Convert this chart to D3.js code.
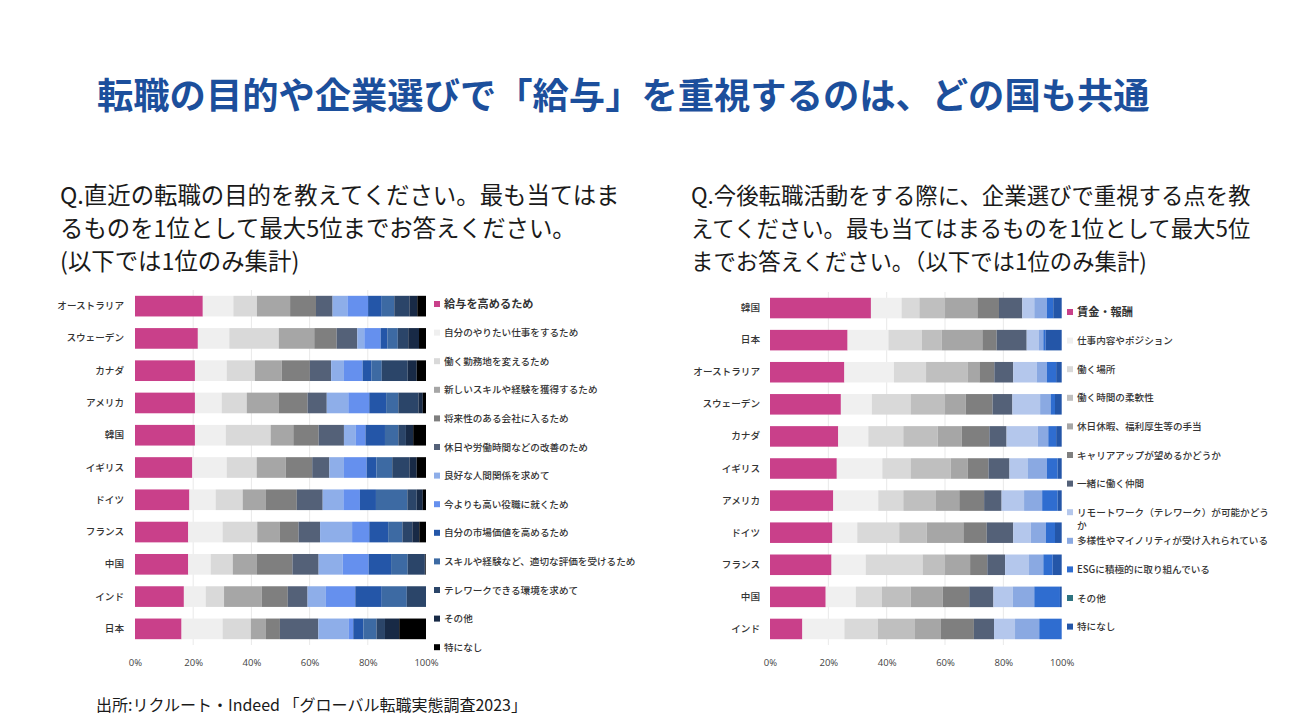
<!DOCTYPE html>
<html><head><meta charset="utf-8">
<script src="https://cdn.jsdelivr.net/npm/d3@7"></script>
<style>
html,body{margin:0;padding:0;background:#fff;}
svg{display:block;font-family:"Noto Sans CJK JP","Noto Sans",sans-serif;}
</style></head>
<body><svg id="c" width="1295" height="723"></svg>
<script>
// ---------- data ----------
const titleText = "転職の目的や企業選びで「給与」を重視するのは、どの国も共通";
const leftQuestion = ["Q.直近の転職の目的を教えてください。最も当てはま","るものを1位として最大5位までお答えください。","(以下では1位のみ集計)"];
const rightQuestion = ["Q.今後転職活動をする際に、企業選びで重視する点を教","えてください。最も当てはまるものを1位として最大5位","までお答えください。（以下では1位のみ集計)"];
const sourceText = "出所:リクルート・Indeed 「グローバル転職実態調査2023」";

const leftCountries = ["オーストラリア","スウェーデン","カナダ","アメリカ","韓国","イギリス","ドイツ","フランス","中国","インド","日本"];
const leftCategories = ["給与を高めるため","自分のやりたい仕事をするため","働く勤務地を変えるため","新しいスキルや経験を獲得するため","将来性のある会社に入るため","休日や労働時間などの改善のため","良好な人間関係を求めて","今よりも高い役職に就くため","自分の市場価値を高めるため","スキルや経験など、適切な評価を受けるため","テレワークできる環境を求めて","その他","特になし"];
const leftValues = [
  [23.3,10.5, 8.1,11.4, 8.9, 5.7, 5.1, 7.1, 4.7, 4.3, 5.2, 2.7, 3.0],
  [21.6,10.8,17.0,12.2, 7.7, 7.1, 2.4, 5.6, 2.3, 3.6, 3.6, 3.7, 2.4],
  [20.6,10.9, 9.7, 9.2, 9.7, 7.3, 4.4, 6.4, 3.1, 3.5, 8.9, 3.1, 3.2],
  [20.6, 9.2, 8.6,10.9,10.0, 6.6, 7.4, 7.2, 5.8, 4.2, 6.9, 1.5, 1.1],
  [20.6,10.6,15.4, 7.8, 8.7, 8.7, 4.1, 3.3, 6.7, 4.6, 2.6, 2.5, 4.4],
  [19.7,11.8,10.3,10.0, 9.1, 5.9, 5.0, 7.8, 3.4, 5.4, 5.9, 2.5, 3.2],
  [18.7, 9.0, 9.3, 8.0,10.6, 8.9, 7.1, 5.7, 5.5,10.8, 3.2, 2.1, 1.1],
  [18.3,11.8,11.9, 7.8, 6.4, 7.4,11.0, 5.9, 6.5, 4.9, 3.4, 2.4, 2.3],
  [18.3, 7.7, 7.6, 8.3,12.2, 9.0, 8.3, 8.9, 7.7, 5.7, 5.9, 0.2, 0.2],
  [16.8, 7.5, 6.3,12.9, 9.0, 6.8, 6.3,10.1, 9.1, 8.6, 6.6, 0.0, 0.0],
  [16.0,14.1, 9.7, 5.2, 4.8,13.2,10.5, 1.5, 3.5, 4.5, 2.9, 4.9, 9.2]
];

const rightCountries = ["韓国","日本","オーストラリア","スウェーデン","カナダ","イギリス","アメリカ","ドイツ","フランス","中国","インド"];
const rightCategories = ["賃金・報酬","仕事内容やポジション","働く場所","働く時間の柔軟性","休日休暇、福利厚生等の手当","キャリアアップが望めるかどうか","一緒に働く仲間","リモートワーク（テレワーク）が可能かどうか","多様性やマイノリティが受け入れられている","ESGに積極的に取り組んでいる","その他","特になし"];
const rightValues = [
  [34.6,10.5, 6.1, 8.8,11.1, 7.4, 8.0, 4.1, 4.3, 2.2, 0.0, 2.9],
  [26.6,14.0,11.4, 6.9,13.9, 4.9,10.3, 4.2, 1.5, 0.8, 0.0, 5.5],
  [25.5,17.0,11.0,14.2, 4.1, 5.1, 6.5, 8.0, 3.5, 3.2, 0.0, 1.9],
  [24.3,10.6,13.3,11.8, 7.1, 9.2, 6.8, 9.5, 3.6, 1.5, 0.0, 2.3],
  [23.4,10.3,12.0,11.8, 8.2, 9.5, 5.9,10.7, 3.6, 2.7, 0.0, 1.9],
  [22.9,15.6, 9.7,13.7, 5.9, 7.1, 7.2, 6.2, 6.6, 3.7, 0.0, 1.4],
  [21.7,15.4, 8.6,11.2, 8.0, 8.5, 6.0, 7.7, 6.2, 5.3, 0.0, 1.4],
  [21.4, 8.5,14.4, 9.4,12.6, 8.0, 9.1, 6.0, 5.2, 3.1, 0.0, 2.3],
  [21.1,11.7,19.5, 7.7, 8.6, 5.9, 6.1, 8.2, 4.9, 3.2, 0.0, 3.1],
  [19.1,10.3, 8.9, 9.9,11.0, 9.1, 8.3, 6.6, 7.4, 8.8, 0.0, 0.6],
  [11.1,14.4,11.4,12.8, 8.9,11.3, 6.9, 7.2, 8.3, 7.7, 0.0, 0.0]
];

const axisTicks = [0, 20, 40, 60, 80, 100];

// ---------- styles ----------
const leftColors = ["#c9408a","#efefef","#d9d9d9","#a6a6a6","#7f7f7f","#546178","#8eaee9","#6590ee","#2456a8","#3d6aa3","#2b4569","#182a46","#000000"];
const rightColors = ["#c9408a","#f0f0f0","#d9d9d9","#bfbfbf","#a6a6a6","#7f7f7f","#546178","#b4c7ec","#8aa9e2","#2f6dd0","#2e7380","#2456a8"];

const svg = d3.select("#c");

svg.append("text").attr("x", 97).attr("y", 109)
  .attr("font-size", 36.3).attr("font-weight", 700).attr("fill", "#1c4f9c")
  .text(titleText);

function question(lines, x, fs) {
  const t = svg.append("text").attr("font-size", fs).attr("fill", "#1a1a1a");
  lines.forEach((l, i) => t.append("tspan").attr("x", x).attr("y", 204 + i * 33).text(l));
}
question(leftQuestion, 60, 23.4);
question(rightQuestion, 691, 22.4);

svg.append("text").attr("x", 96).attr("y", 711).attr("font-size", 16).attr("fill", "#1a1a1a").text(sourceText);

function drawChart(cfg) {
  const x = d3.scaleLinear().domain([0, 100]).range([cfg.x0, cfg.x1]);
  const y = d3.scaleBand().domain(cfg.countries).range([cfg.y0, cfg.y1]).paddingInner(0.36).paddingOuter(0.18);
  const g = svg.append("g");

  // grid
  g.selectAll("line.grid").data(axisTicks.filter(t => t > 0 && t < 100)).join("line")
    .attr("x1", d => x(d)).attr("x2", d => x(d))
    .attr("y1", cfg.y0).attr("y2", cfg.y1)
    .attr("stroke", "#e9e9e9").attr("stroke-width", 1);

  const stacked = d3.stack().keys(d3.range(cfg.categories.length))
    .value((row, k) => row[k])(cfg.values);

  g.selectAll("g.series").data(stacked).join("g")
    .attr("fill", (d, i) => cfg.colors[i])
    .selectAll("rect").data((d) => d.map((s, j) => ({s, j}))).join("rect")
      .attr("x", d => x(d.s[0]))
      .attr("width", d => Math.max(0, x(d.s[1]) - x(d.s[0])))
      .attr("y", d => y(cfg.countries[d.j]))
      .attr("height", y.bandwidth());

  // country labels
  const ax = d3.axisLeft(y).tickSize(0).tickPadding(cfg.labelPad);
  const ag = g.append("g").attr("transform", `translate(${cfg.x0},0)`).call(ax);
  ag.select(".domain").remove();
  ag.selectAll("text").attr("font-size", 9.6).attr("font-weight", 500).attr("fill", "#333")
    .attr("font-family", '"Noto Sans CJK JP",sans-serif');

  // x axis
  const bx = d3.axisBottom(x).tickValues(axisTicks).tickFormat(d => d + "%").tickSize(0).tickPadding(8);
  const bg = g.append("g").attr("transform", `translate(0,${cfg.axisY})`).call(bx);
  bg.select(".domain").remove();
  bg.selectAll("text").attr("font-size", 9.5).attr("fill", "#444")
    .attr("font-family", '"Open Sans","Noto Sans",sans-serif');

  // legend
  const lg = g.append("g");
  cfg.categories.forEach((c, i) => {
    const cy = cfg.legY0 + i * cfg.legStep;
    const first = i === 0;
    lg.append("rect").attr("x", cfg.legX).attr("y", cy - 3).attr("width", 6).attr("height", 6)
      .attr("fill", cfg.colors[i]);
    const t = lg.append("text").attr("x", cfg.legX + 10).attr("y", cy + 3.5)
      .attr("font-size", first ? 11.2 : 9.6).attr("font-weight", first ? 700 : 500)
      .attr("fill", "#333");
    const chars = Array.from(c);
    let line = "", lines = [];
    const tmp = t.append("tspan");
    chars.forEach(ch => {
      tmp.text(line + ch);
      if (tmp.node().getComputedTextLength() > cfg.legMaxW && line) { lines.push(line); line = ch; }
      else line += ch;
    });
    lines.push(line);
    tmp.remove();
    lines.forEach((l, k) => t.append("tspan").attr("x", cfg.legX + 10).attr("dy", k === 0 ? 0 : 13).text(l));
  });
}

drawChart({
  x0: 135, x1: 426, y0: 290, y1: 645, axisY: 651, labelPad: 11,
  countries: leftCountries, categories: leftCategories, values: leftValues, colors: leftColors,
  legX: 434, legY0: 304, legStep: 28.6, legMaxW: 230
});
drawChart({
  x0: 770, x1: 1061.7, y0: 292, y1: 645, axisY: 651, labelPad: 10,
  countries: rightCountries, categories: rightCategories, values: rightValues, colors: rightColors,
  legX: 1067, legY0: 312, legStep: 28.6, legMaxW: 200
});
</script></body></html>
